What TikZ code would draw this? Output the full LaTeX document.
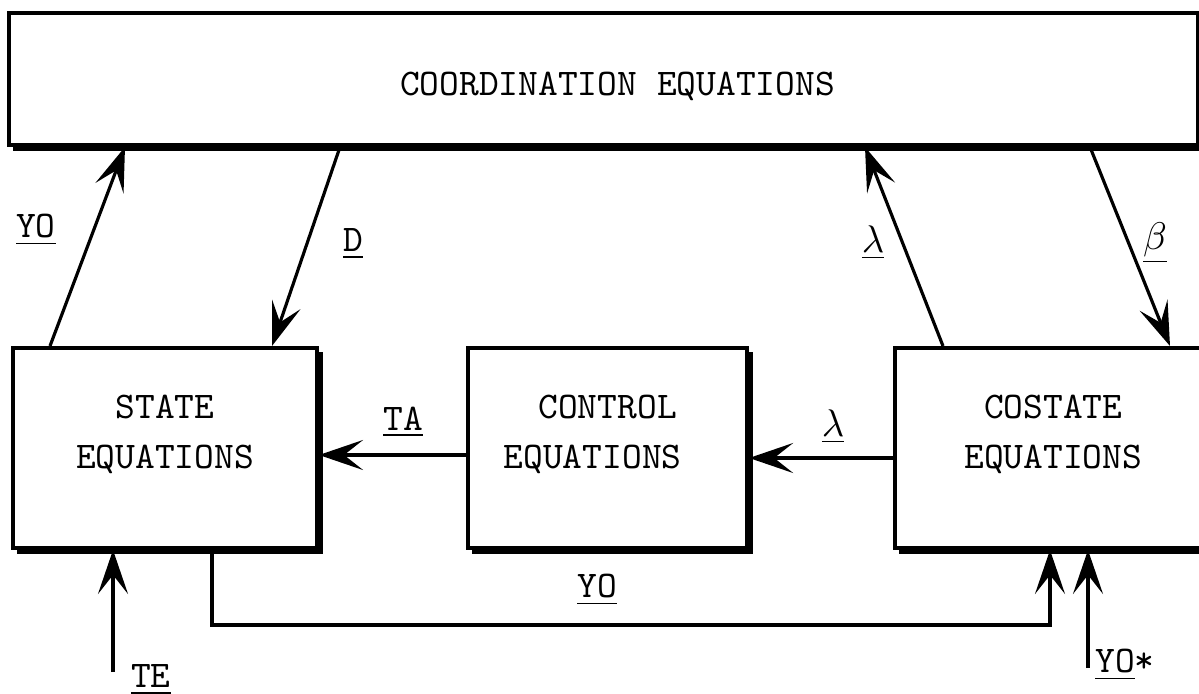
\documentclass[tikz,border=0pt]{standalone}
\usetikzlibrary{arrows.meta,positioning,calc}
\newcommand{\eqfont}{\fontsize{10.7}{14.2}\selectfont\ttfamily}
\tikzset{
  eqbox/.style={draw,line width=1.1pt,inner sep=0pt,align=center,font=\eqfont,
    minimum height=2cm,text depth=.32cm},
  shadowedge/.style={line width=2.2pt},
  sig/.style={-{Stealth[length=4.4mm,width=3mm,inset=1.9mm]},line width=.9pt},
  tag/.style={font=\eqfont,inner sep=1pt}
}

\begin{document}
\begin{tikzpicture}[x=.01cm,y=-.01cm]
    \clip (0,0) rectangle (1199,694);
    \node[eqbox,minimum width=11.89cm,minimum height=1.32cm,text height=.32cm,text depth=0pt]
      (coord) at (603.5,79) {\hspace*{.28cm}COORDINATION EQUATIONS};
    \node[eqbox,minimum width=3.04cm] (state) at (165,448) {STATE\\EQUATIONS};
    \node[eqbox,minimum width=2.79cm,right=1.47cm of state] (ctrl) {CONTROL\\EQUATIONS\hspace*{.3cm}};
    \node[eqbox,minimum width=3.16cm,right=1.44cm of ctrl] (costate) {COSTATE\\EQUATIONS};
    \foreach \b in {coord,state,ctrl,costate}
      \draw[shadowedge] ($(\b.south west)+(6,0)$) -- (\b.south east) -- ($(\b.north east)+(0,6)$);
    % links to the coordination level
    \draw[sig] (50,0 |- state.north) -- (125,0 |- coord.south);
    \draw[sig] (340,0 |- coord.south) -- (272,0 |- state.north);
    \draw[sig] (943,0 |- costate.north) -- (865,0 |- coord.south);
    \draw[sig] (1090,0 |- coord.south) -- (1170,0 |- costate.north);
    % lower level
    \draw[sig] (ctrl.west |- 0,455) -- (state.east |- 0,455);
    \draw[sig] (costate.west |- 0,458) -- (ctrl.east |- 0,458);
    \coordinate (fb) at (1050,625);
    \draw[sig] (212,0 |- state.south) |- (fb) -- (fb |- costate.south);
    \coordinate (te) at (113,672);
    \draw[sig] (te) -- (te |- state.south);
    \coordinate (yostar) at (1088,668);
    \draw[sig] (yostar) -- (yostar |- costate.south);
    \node[tag] (lyo) at (36,230) {\underline{YO}};
    \node[tag] (ld) at (353,244) {\underline{D}};
    \node[tag] (llam) at (873,243) {$\underline{\lambda}$};
    \node[tag] (lbeta) at (1155,243) {$\underline{\beta}$};
    \node[tag] (lta) at (403,422) {\underline{TA}};
    \node[tag] (llamb) at (833,427) {$\underline{\lambda}$};
    \node[tag] (lyofb) at (597,590) {\underline{YO}};
    \node[tag] (lyostar) at (1125,665) {\underline{YO}*};
    \node[tag] (lte) at (151,680) {\underline{TE}};
\end{tikzpicture}
\end{document}
